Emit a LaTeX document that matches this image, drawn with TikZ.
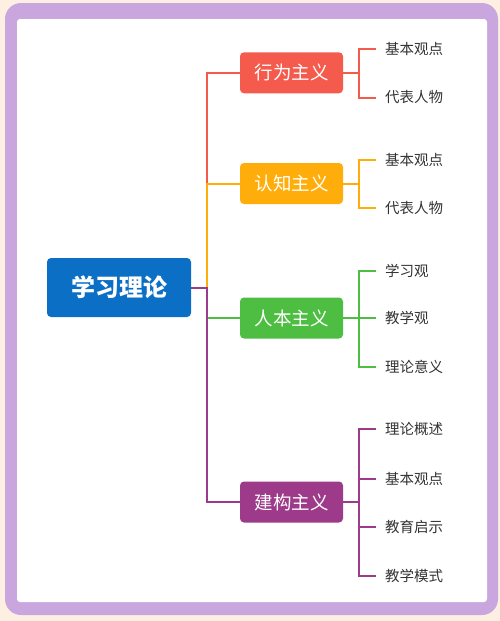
\documentclass[tikz,border=0pt]{standalone}
\usepackage{fontspec}
\setmainfont{Noto Sans CJK SC}
\definecolor{cream}{HTML}{FDF0E3}
\definecolor{frame}{HTML}{C9A6DE}
\definecolor{rootblue}{HTML}{0B6FC6}
\definecolor{cred}{HTML}{F45B4D}
\definecolor{cyellow}{HTML}{FFAD0A}
\definecolor{cgreen}{HTML}{4EBE42}
\definecolor{cpurple}{HTML}{9D3A8A}
\definecolor{leaftext}{HTML}{333333}
\begin{document}
\begin{tikzpicture}[x=1pt,y=-1pt,
  rootbox/.style={fill=rootblue,rounded corners=4pt,minimum width=144pt,minimum height=59pt,text=white,font=\fontsize{24}{28}\selectfont\bfseries,inner sep=0pt},
  branchbox/.style={fill=#1,rounded corners=4pt,minimum width=103pt,minimum height=41pt,text=white,font=\fontsize{18.5}{22}\selectfont,inner sep=0pt},
  leaf/.style={anchor=west,inner sep=0pt,text=leaftext,font=\fontsize{14.5}{17}\selectfont},
  conn/.style={draw=#1,line width=2pt},
]
\useasboundingbox (0,0) rectangle (500,621);
\fill[cream] (0,0) rectangle (500,621);
\fill[frame,rounded corners=16pt] (5,3) rectangle (498,615);
\fill[white,rounded corners=3pt] (17,19) rectangle (487,602);

\node[rootbox] (root) at (119,287.5) {学习理论};
\node[branchbox=cred] (b1) at (291.5,72.8) {行为主义};
\node[branchbox=cyellow] (b2) at (291.5,183.5) {认知主义};
\node[branchbox=cgreen] (b3) at (291.5,318) {人本主义};
\node[branchbox=cpurple] (b4) at (291.5,502) {建构主义};

\coordinate (trunk) at (207,287.5);

% branch connectors (order matters for overlap)
\draw[conn=cred] (root.east) -- (trunk) |- (b1.west);
\draw[conn=cyellow] (root.east) -- (trunk) |- (b2.west);
\draw[conn=cgreen] (root.east) -- (trunk) |- (b3.west);
\draw[conn=cpurple] (root.east) -- (trunk) |- (b4.west);

% leaves
\node[leaf] (l11) at (385,48.5) {基本观点};
\node[leaf] (l12) at (385,97.5) {代表人物};
\node[leaf] (l21) at (385,159.5) {基本观点};
\node[leaf] (l22) at (385,208) {代表人物};
\node[leaf] (l31) at (385,270.5) {学习观};
\node[leaf] (l32) at (385,318) {教学观};
\node[leaf] (l33) at (385,366.5) {理论意义};
\node[leaf] (l41) at (385,429) {理论概述};
\node[leaf] (l42) at (385,478.5) {基本观点};
\node[leaf] (l43) at (385,526.5) {教育启示};
\node[leaf] (l44) at (385,575.5) {教学模式};

\foreach \b/\c/\ls in {b1/cred/{l11,l12},b2/cyellow/{l21,l22},b3/cgreen/{l31,l32,l33},b4/cpurple/{l41,l42,l43,l44}}{
  \coordinate (j\b) at ([xshift=16pt]\b.east);
  \draw[conn=\c] (\b.east) -- (j\b);
  \foreach \l in \ls {
    \draw[conn=\c] (j\b) |- ([xshift=-9pt]\l.west);
  }
}
\end{tikzpicture}
\end{document}
